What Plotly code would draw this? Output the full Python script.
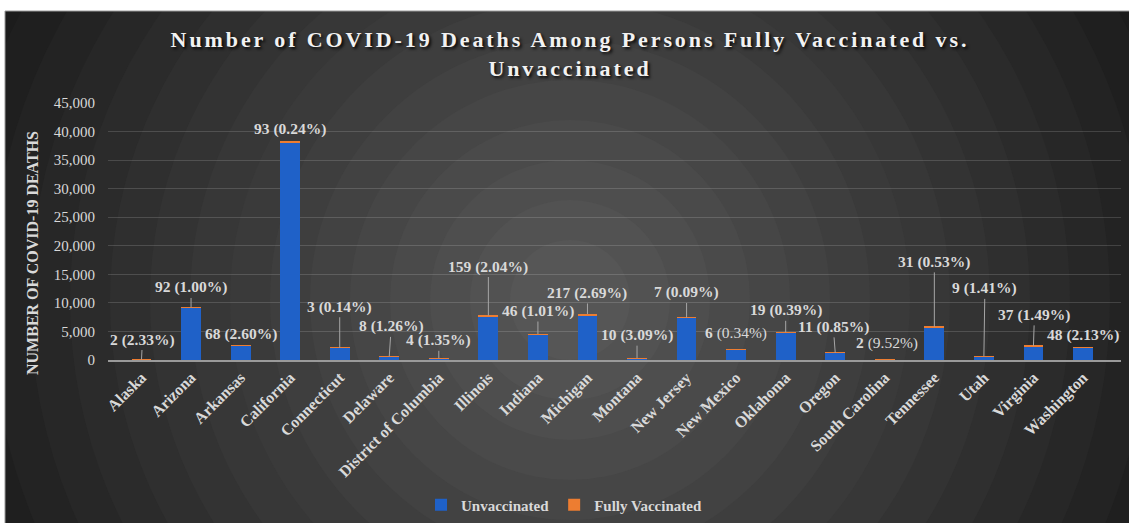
import plotly.graph_objects as go

# ---------------- data ----------------
states = ["Alaska", "Arizona", "Arkansas", "California", "Connecticut", "Delaware",
          "District of Columbia", "Illinois", "Indiana", "Michigan", "Montana",
          "New Jersey", "New Mexico", "Oklahoma", "Oregon", "South Carolina",
          "Tennessee", "Utah", "Virginia", "Washington"]
unvaccinated = [84, 9108, 2532, 38107, 2137, 622, 292, 7631, 4504, 7847, 314,
                7443, 1759, 4831, 1239, 19, 5769, 621, 2433, 2182]
vaccinated = [2, 92, 68, 93, 3, 8, 4, 159, 46, 217, 10, 7, 6, 19, 11, 2, 31, 9, 37, 48]
vacc_pct = ["2.33%", "1.00%", "2.60%", "0.24%", "0.14%", "1.26%", "1.35%", "2.04%",
            "1.01%", "2.69%", "3.09%", "0.09%", "0.34%", "0.39%", "0.85%", "9.52%",
            "0.53%", "1.41%", "1.49%", "2.13%"]
y_ticks = [0, 5000, 10000, 15000, 20000, 25000, 30000, 35000, 40000, 45000]

# ---------------- layout / style constants ----------------
W, H = 1129, 523
L, R, T, B = 108, 8, 103, 163
PW, PH = W - L - R, H - T - B
SERIF = "Times New Roman, Liberation Serif, serif"
TXT = "#d9d9d9"

def px(x):
    return (x - L) / PW

def py(y):
    return (H - B - y) / PH

# label offsets in pixels (dx, dy, leader-line shown)
label_offsets = [(1, -20, True), (0, -20, True), (0, -11, False), (0, -13, False),
                 (0, -41, True), (2, -30, True), (0, -18, True), (0, -49, True),
                 (0, -23, True), (0, -21, True), (0, -23, True), (0, -25, True),
                 (0, -17, False), (0, -22, True), (-2, -26, True), (2, -17, False),
                 (0, -65, True), (1, -68, True), (1, -31, True), (0, -12, False)]
plain_pct = {"0.34%", "9.52%"}  # labels whose percentage is not bold

fig = go.Figure()
fig.add_trace(go.Bar(x=states, y=unvaccinated, name="Unvaccinated",
                     marker=dict(color="#1f61c8", line=dict(width=0))))
fig.add_trace(go.Bar(x=states, y=vaccinated, name="Fully Vaccinated",
                     marker=dict(color="#ed7d31", line=dict(width=0))))

annotations = []
for i, st in enumerate(states):
    total = unvaccinated[i] + vaccinated[i]
    dx, dy, leader = label_offsets[i]
    if vacc_pct[i] in plain_pct:
        txt = f"<b>{vaccinated[i]}</b> ({vacc_pct[i]})"
    else:
        txt = f"<b>{vaccinated[i]} ({vacc_pct[i]})</b>"
    annotations.append(dict(
        x=st, y=total, xref="x", yref="y", text=txt, showarrow=True,
        arrowhead=0, arrowwidth=1,
        arrowcolor="#a6a6a6" if leader else "rgba(0,0,0,0)",
        ax=dx, ay=dy, font=dict(family=SERIF, size=15.5, color=TXT)))

annotations.append(dict(
    x=px(33), y=py(253), xref="paper", yref="paper", showarrow=False,
    xanchor="center", yanchor="middle",
    text="NUMBER OF COVID-19 DEATHS", textangle=-90,
    font=dict(family=SERIF, size=16, color=TXT, weight="bold")))

# background: banded radial gradient + white border
shapes = []
cx, cy = 570, 300
outer_c, inner_c = (0x1c, 0x1c, 0x1c), (0x56, 0x56, 0x56)
shapes.append(dict(type="rect", xref="paper", yref="paper", layer="below",
                   x0=px(0), x1=px(W), y0=py(H), y1=py(0),
                   fillcolor="#1c1c1c", line=dict(width=0)))
n_rings = 16
for k in range(n_rings):
    r = 660 - k * 40
    f = k / (n_rings - 1)
    c = tuple(int(outer_c[j] + (inner_c[j] - outer_c[j]) * f) for j in range(3))
    shapes.append(dict(type="circle", xref="paper", yref="paper", layer="below",
                       x0=px(cx - r), x1=px(cx + r), y0=py(cy + r), y1=py(cy - r),
                       fillcolor="rgb(%d,%d,%d)" % c, line=dict(width=0)))
shapes.append(dict(type="rect", xref="paper", yref="paper", layer="below",
                   x0=px(-20), x1=px(W + 20), y0=py(11), y1=py(-40),
                   fillcolor="white", line=dict(width=0)))
shapes.append(dict(type="rect", xref="paper", yref="paper", layer="below",
                   x0=px(-20), x1=px(5), y0=py(H + 20), y1=py(-40),
                   fillcolor="white", line=dict(width=0)))
shapes.append(dict(type="line", xref="paper", yref="paper", layer="below",
                   x0=px(5), x1=px(W), y0=py(11), y1=py(11),
                   line=dict(color="#9a9a9a", width=1)))
shapes.append(dict(type="line", xref="paper", yref="paper", layer="below",
                   x0=px(5), x1=px(5), y0=py(11), y1=py(H),
                   line=dict(color="#9a9a9a", width=1)))

sp = "letter-spacing:2.9px"
title_text = (f"<span style='{sp}'>Number of COVID-19 Deaths Among Persons Fully Vaccinated vs.</span>"
              f"<br><span style='{sp}'>Unvaccinated</span>")

fig.update_layout(
    width=W, height=H,
    margin=dict(l=L, r=R, t=T, b=B, pad=0, autoexpand=False),
    paper_bgcolor="white", plot_bgcolor="rgba(0,0,0,0)",
    barmode="stack", bargap=0.6,
    title=dict(text=title_text, x=570 / W, xanchor="center", xref="container",
               y=1 - 47 / H, yanchor="top", yref="container",
               font=dict(family=SERIF, size=22, color="#f2f2f2", weight="bold",
                         shadow="2px 2px 3px rgba(0,0,0,0.85)")),
    showlegend=True,
    legend=dict(orientation="h", x=564 / W, xanchor="center", xref="container",
                y=1 - 505 / H, yanchor="middle", yref="container",
                font=dict(family=SERIF, size=15, color=TXT, weight="bold"),
                bgcolor="rgba(0,0,0,0)", itemwidth=30, traceorder="normal"),
    xaxis=dict(tickangle=-45, tickfont=dict(family=SERIF, size=16, color=TXT, weight="bold"),
               showgrid=False, showline=True, linecolor="#9a9a9a", linewidth=2,
               ticks="", fixedrange=True, automargin=False),
    yaxis=dict(range=[0, 45000], tickvals=y_ticks, tickformat=",",
               tickfont=dict(family=SERIF, size=15, color=TXT),
               showgrid=True, gridcolor="rgba(255,255,255,0.15)", gridwidth=1,
               zeroline=False, showline=False, ticks="", ticklabelstandoff=12,
               automargin=False),
    annotations=annotations, shapes=shapes,
)

fig.write_html("out.html", config={"displayModeBar": False},
               post_script="document.body.style.margin='0';document.body.style.overflow='hidden';")
